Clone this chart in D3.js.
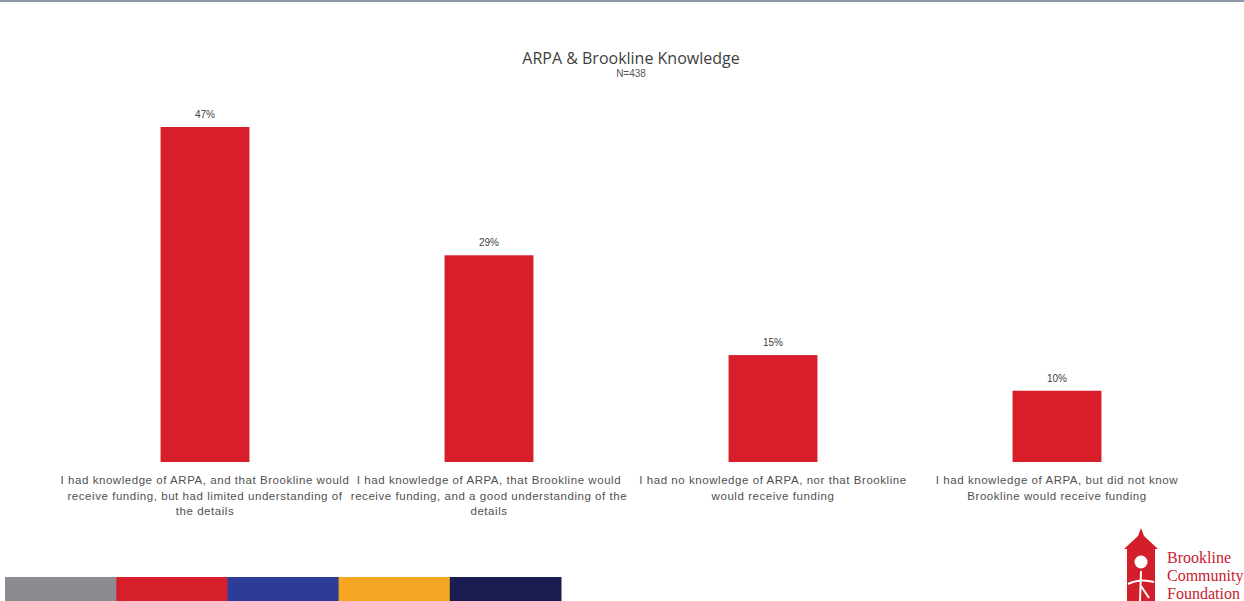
<!DOCTYPE html>
<html>
<head>
<meta charset="utf-8">
<script src="https://cdn.jsdelivr.net/npm/d3@7"></script>
<style>
  html, body { margin: 0; padding: 0; background: #fff; }
  svg { display: block; }
</style>
</head>
<body>
<svg id="chart" width="1244" height="601"></svg>
<script>
// Survey responses: knowledge of ARPA funding for Brookline
const categories = [
  "I had knowledge of ARPA, and that Brookline would receive funding, but had limited understanding of the details",
  "I had knowledge of ARPA, that Brookline would receive funding, and a good understanding of the details",
  "I had no knowledge of ARPA, nor that Brookline would receive funding",
  "I had knowledge of ARPA, but did not know Brookline would receive funding"
];
const categoryLines = [
  ["I had knowledge of ARPA, and that Brookline would", "receive funding, but had limited understanding of", "the details"],
  ["I had knowledge of ARPA, that Brookline would", "receive funding, and a good understanding of the", "details"],
  ["I had no knowledge of ARPA, nor that Brookline", "would receive funding"],
  ["I had knowledge of ARPA, but did not know", "Brookline would receive funding"]
];
const values = [47, 29, 15, 10];
const title = "ARPA & Brookline Knowledge";
const subtitle = "N=438";
const stripeColors = ["#8a8c91", "#d71f2b", "#2c3c97", "#f5a724", "#1b1c52"];
const logoLines = ["Brookline", "Community", "Foundation"];

const svg = d3.select("#chart");
const W = 1244, H = 601;
const baseY = 462;

// thin rule across the top
svg.append("rect").attr("x", 0).attr("y", 0).attr("width", W).attr("height", 2)
  .attr("fill", "#8d96a8");

const x = d3.scaleBand()
  .domain(categories)
  .range([63, 1199])
  .paddingInner(0.687)
  .paddingOuter(0.3435);

const y = d3.scaleLinear()
  .domain([0, 47])
  .range([baseY, 127]);

// title
svg.append("text")
  .attr("x", 631).attr("y", 64)
  .attr("text-anchor", "middle")
  .attr("font-family", "'Open Sans', 'Liberation Sans', sans-serif")
  .attr("font-size", 16)
  .attr("fill", "#3f3f3f")
  .text(title);
svg.append("text")
  .attr("x", 631).attr("y", 77)
  .attr("text-anchor", "middle")
  .attr("font-family", "'Liberation Sans', sans-serif")
  .attr("font-size", 10)
  .attr("fill", "#555")
  .text(subtitle);

// bars
svg.append("g").selectAll("rect")
  .data(values)
  .join("rect")
  .attr("x", (d, i) => x(categories[i]))
  .attr("y", d => y(d))
  .attr("width", x.bandwidth())
  .attr("height", d => baseY - y(d))
  .attr("fill", "#d81e2a");

// value labels
svg.append("g").selectAll("text")
  .data(values)
  .join("text")
  .attr("x", (d, i) => x(categories[i]) + x.bandwidth() / 2)
  .attr("y", d => y(d) - 9)
  .attr("text-anchor", "middle")
  .attr("font-family", "'Liberation Sans', sans-serif")
  .attr("font-size", 10)
  .attr("fill", "#404040")
  .text(d => d + "%");

// category labels
const labelG = svg.append("g")
  .attr("font-family", "'Liberation Sans', sans-serif")
  .attr("font-size", 11.5)
  .attr("letter-spacing", 0.55)
  .attr("fill", "#505050")
  .attr("text-anchor", "middle");
categories.forEach((c, i) => {
  const cx = x(c) + x.bandwidth() / 2;
  const t = labelG.append("text").attr("x", cx).attr("y", 484);
  categoryLines[i].forEach((line, j) => {
    t.append("tspan").attr("x", cx).attr("dy", j === 0 ? 0 : 15.5).text(line);
  });
});

// colour stripe along the bottom
const stripe = d3.scaleBand().domain(d3.range(stripeColors.length)).range([5, 561]);
svg.append("g").selectAll("rect")
  .data(stripeColors)
  .join("rect")
  .attr("x", (d, i) => stripe(i))
  .attr("y", 577)
  .attr("width", stripe.bandwidth() + 0.5)
  .attr("height", 24)
  .attr("fill", d => d);

// foundation logo
const logo = svg.append("g");
logo.append("path")
  .attr("d", "M1141,528 L1144,536 L1158,549 L1155,549 L1155,601 L1127,601 L1127,549 L1124,549 L1138,536 Z")
  .attr("fill", "#d31f2b");
logo.append("circle").attr("cx", 1141).attr("cy", 562).attr("r", 6.5).attr("fill", "#fff");
logo.append("path")
  .attr("d", "M1128,584 Q1140,578 1154,582 M1141,571 L1140,601 M1141,586 L1149,598")
  .attr("stroke", "#fff").attr("stroke-width", 2).attr("fill", "none");
logo.append("g").selectAll("text")
  .data(logoLines)
  .join("text")
  .attr("x", 1167)
  .attr("y", (d, i) => 563 + i * 18)
  .attr("font-family", "'Liberation Serif', serif")
  .attr("font-size", 16)
  .attr("fill", "#c8202e")
  .text(d => d);
</script>
</body>
</html>
